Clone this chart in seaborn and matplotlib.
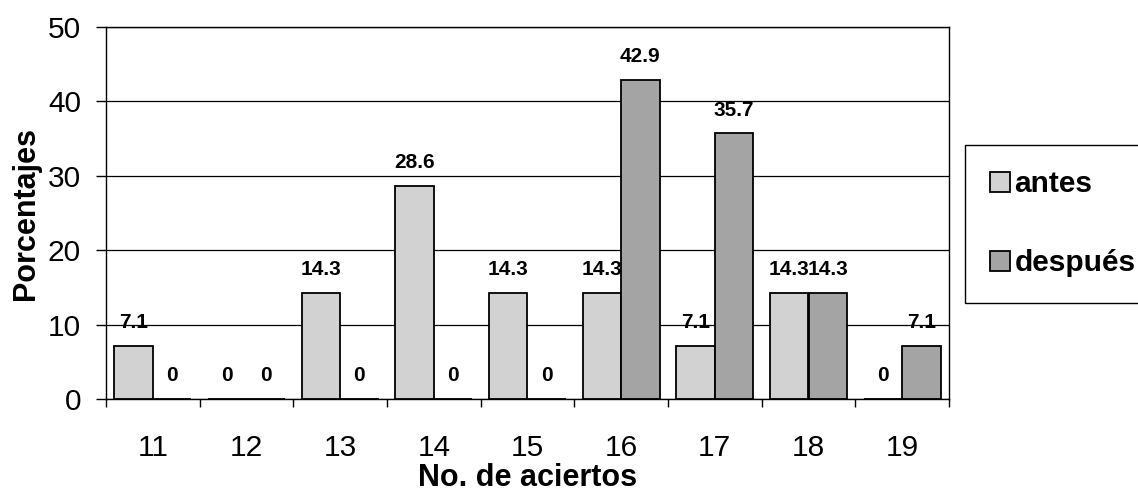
import matplotlib
matplotlib.use("Agg")
import matplotlib.pyplot as plt
import numpy as np
import pandas as pd
import seaborn as sns

# data
aciertos = ["11", "12", "13", "14", "15", "16", "17", "18", "19"]
antes = [7.1, 0, 14.3, 28.6, 14.3, 14.3, 7.1, 14.3, 0]
despues = [0, 0, 0, 0, 0, 42.9, 35.7, 14.3, 7.1]
series_names = ["antes", "después"]
y_ticks = [0, 10, 20, 30, 40, 50]

COLORS = ["#D2D2D2", "#A4A4A4"]


def build_frame() -> pd.DataFrame:
    rows = []
    for name, values in zip(series_names, [antes, despues]):
        for cat, val in zip(aciertos, values):
            rows.append({"aciertos": cat, "serie": name, "valor": val})
    return pd.DataFrame(rows)


def main() -> None:
    sns.set_theme(style="white")
    plt.rcParams["font.family"] = ["Liberation Sans", "DejaVu Sans"]
    plt.rcParams.update({
        "text.color": "black",
        "axes.labelcolor": "black",
        "xtick.color": "black",
        "ytick.color": "black",
    })

    df = build_frame()
    fig = plt.figure(figsize=(11.38, 4.93), dpi=100)
    ax = fig.add_axes([106 / 1138, 1 - 399 / 493, (949 - 106) / 1138, (399 - 27) / 493])

    sns.barplot(
        data=df, x="aciertos", y="valor", hue="serie", order=aciertos,
        hue_order=series_names, palette=COLORS, width=0.82, dodge=True,
        edgecolor="black", linewidth=1.3, saturation=1, ax=ax, legend=True,
    )

    for cont in ax.containers:
        ax.bar_label(cont, fmt="{:g}", padding=10, fontsize=15, fontweight="bold", color="black")

    ax.set_ylim(0, 50)
    ax.set_xlim(-0.5, len(aciertos) - 0.5)
    ax.set_yticks(y_ticks)
    ax.yaxis.grid(True, color="black", linewidth=0.9)
    ax.set_axisbelow(True)
    for sp in ax.spines.values():
        sp.set_visible(True)
        sp.set_color("black")
        sp.set_linewidth(1.0)

    ax.set_xticks(np.arange(-0.5, len(aciertos)), minor=True)
    ax.tick_params(axis="x", which="major", length=0, pad=25, labelsize=21.5)
    ax.tick_params(axis="x", which="minor", length=6, width=1, color="black", direction="out", bottom=True)
    ax.tick_params(axis="y", length=7, width=1, color="black", direction="out", pad=11, labelsize=21.5, left=True)

    ax.set_xlabel("No. de aciertos", fontsize=22, fontweight="bold", labelpad=1)
    ax.set_ylabel("Porcentajes", fontsize=22, fontweight="bold", labelpad=5)

    handles, labels = ax.get_legend_handles_labels()
    ax.get_legend().remove()
    leg = fig.legend(
        handles, labels, loc="upper left", bbox_to_anchor=(965 / 1138, 1 - 145 / 493),
        frameon=True, fancybox=False, edgecolor="black", framealpha=1,
        prop={"size": 21.5, "weight": "bold"}, handlelength=0.65, handleheight=0.65,
        handletextpad=0.15, labelspacing=1.7, borderpad=0.85, borderaxespad=0,
    )
    leg.get_frame().set_linewidth(1.0)

    fig.savefig("out.png", dpi=100)
    plt.close(fig)


if __name__ == "__main__":
    main()
